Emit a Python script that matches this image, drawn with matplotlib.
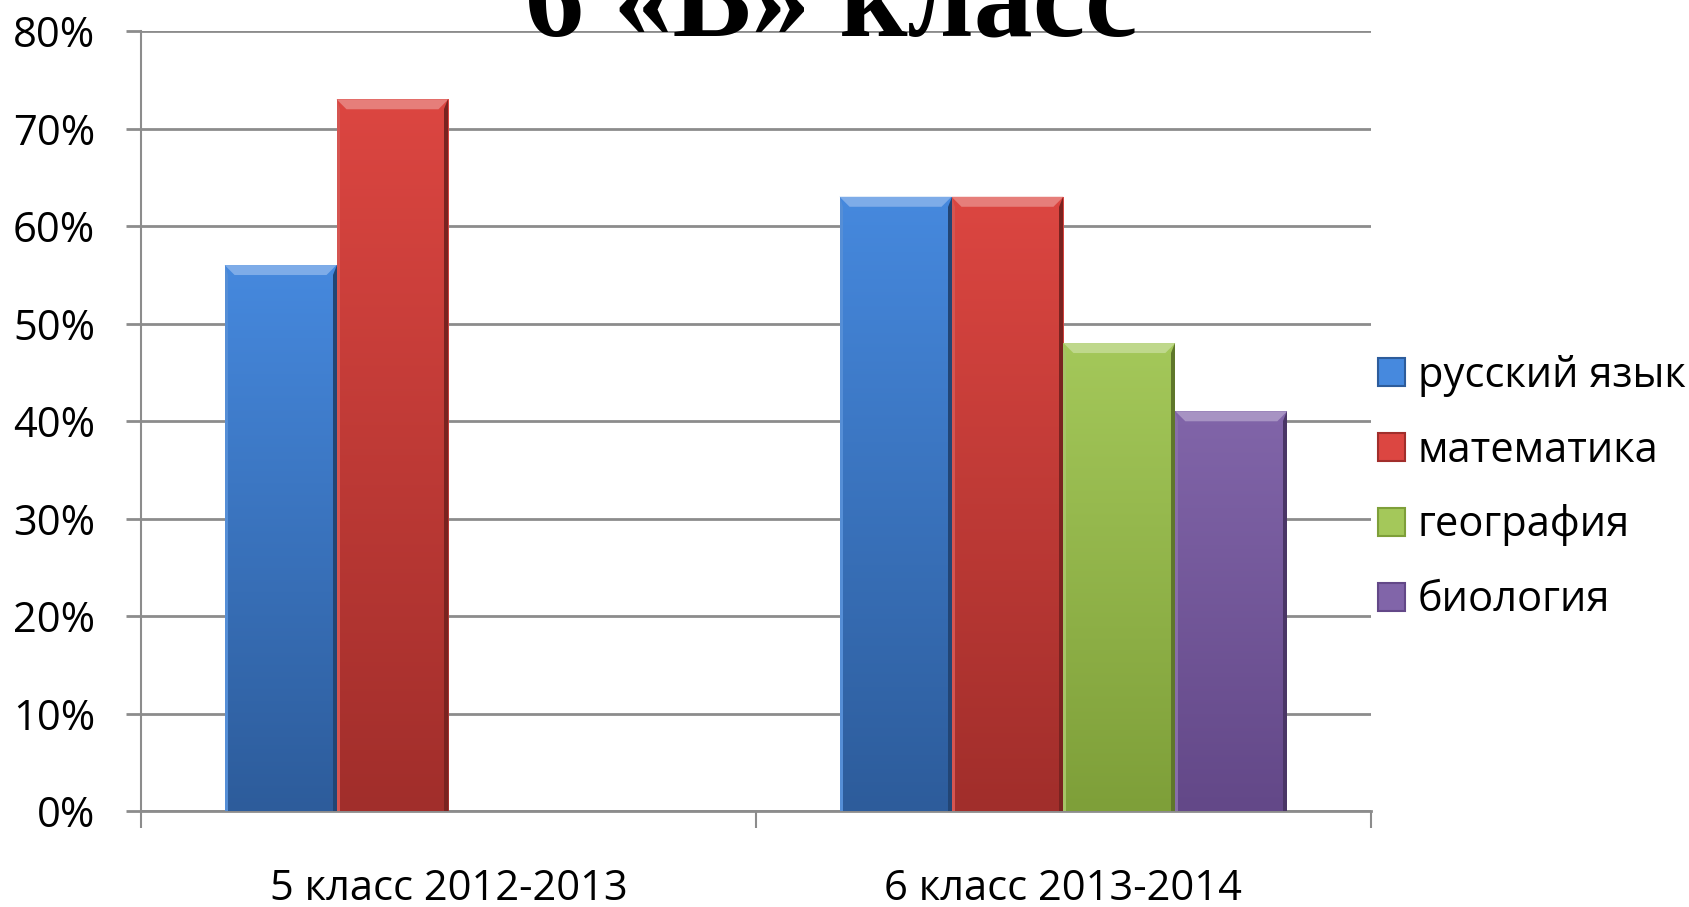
import numpy as np
import matplotlib
matplotlib.use("Agg")
import matplotlib.pyplot as plt
from matplotlib.colors import LinearSegmentedColormap, to_rgb
from matplotlib.patches import Polygon, Patch

# data
categories = ["5 класс 2012-2013", "6 класс 2013-2014"]
subjects = ["русский язык", "математика", "география", "биология"]
russian = [0.56, 0.63]
maths = [0.73, 0.63]
geography = [0.0, 0.48]
biology = [0.0, 0.41]
series = [russian, maths, geography, biology]
y_ticks = [0, 0.1, 0.2, 0.3, 0.4, 0.5, 0.6, 0.7, 0.8]

# colours (top, bottom) of the gradient
grads = [("#4689DE", "#2D5C9B"),
         ("#DC4641", "#A12E2B"),
         ("#A4C85A", "#7E9F39"),
         ("#8165A9", "#634888")]

plt.rcParams['font.family'] = ['Open Sans', 'DejaVu Sans']

fig = plt.figure(figsize=(16.9, 9.07), dpi=100)
ax = fig.add_axes([0.0834, 0.1058, 0.7278, 0.8600])

x = np.arange(len(categories))
w = 0.182
offsets = (np.arange(4) - 1.5) * w

ax.set_xlim(-0.5, 1.5)
ax.set_ylim(0, 0.8)

# px -> data units for the bevel
ax_w_px = 0.7278 * 1690
ax_h_px = 0.86 * 907
px_x = 2.0 / ax_w_px
px_y = 0.8 / ax_h_px

for i, vals in enumerate(series):
    bars = ax.bar(x + offsets[i], vals, w, color=grads[i][0], zorder=3,
                  label=subjects[i])
    cmap = LinearSegmentedColormap.from_list("g", [grads[i][1], grads[i][0]])
    for b in bars:
        h = b.get_height()
        if h <= 0:
            b.set_visible(False)
            continue
        x0, bw = b.get_x(), b.get_width()
        grad = np.linspace(0, 1, 256).reshape(-1, 1)
        im = ax.imshow(grad, cmap=cmap, origin="lower", aspect="auto",
                       extent=(x0, x0 + bw, 0, h), zorder=3.1)
        im.set_clip_path(b)
        top_c = np.array(to_rgb(grads[i][0]))
        bot_c = np.array(to_rgb(grads[i][1]))
        bx = 10 * px_x
        by = 10 * px_y
        # top bevel (lighter)
        ax.add_patch(Polygon([(x0, h), (x0 + bw, h), (x0 + bw - bx, h - by), (x0 + bx, h - by)],
                             closed=True, color=np.clip(top_c * 0.7 + 0.3, 0, 1), lw=0, zorder=3.2))
        # right bevel (darker)
        ax.add_patch(Polygon([(x0 + bw, h), (x0 + bw, 0), (x0 + bw - 4 * px_x, 0), (x0 + bw - 4 * px_x, h - by)],
                             closed=True, color=bot_c * 0.75, lw=0, zorder=3.2))
        # left bevel
        ax.add_patch(Polygon([(x0, h), (x0, 0), (x0 + 3 * px_x, 0), (x0 + 3 * px_x, h - by)],
                             closed=True, color=np.clip(top_c * 0.85 + 0.1, 0, 1), lw=0, zorder=3.2))

# axes styling
grid_c = "#8C8C8C"
ax.set_yticks(y_ticks)
ax.set_yticklabels([f"{int(round(t * 100))}%" for t in y_ticks], fontsize=30)
ax.yaxis.grid(True, color=grid_c, lw=2, zorder=0)
ax.set_axisbelow(True)
for s in ["top", "right"]:
    ax.spines[s].set_visible(False)
ax.spines["left"].set_color(grid_c)
ax.spines["left"].set_linewidth(1.5)
ax.spines["bottom"].set_color(grid_c)
ax.spines["bottom"].set_linewidth(2)
ax.tick_params(axis="y", length=11, width=2, color=grid_c, pad=22)

ax.set_xticks(x)
ax.set_xticklabels(categories, fontsize=30)
ax.set_xticks([-0.5, 0.5, 1.5], minor=True)
ax.tick_params(axis="x", which="major", length=0, pad=41)
ax.tick_params(axis="x", which="minor", length=12, width=1.5, color=grid_c)

handles = [Patch(facecolor=grads[i][0], edgecolor=grads[i][1], lw=1.5) for i in range(4)]
fig.legend(handles, subjects, loc="center left", bbox_to_anchor=(1378 / 1690, 1 - 488 / 907),
           frameon=False, fontsize=30, handlelength=0.65, handleheight=0.65,
           handletextpad=0.3, labelspacing=0.79, borderpad=0, borderaxespad=0)

fig.text(0.492, 1 - 37 / 907, "6 «В» класс", fontsize=85, family="Liberation Serif",
         weight="bold", ha="center", va="baseline")

fig.savefig("out.png", dpi=100)
